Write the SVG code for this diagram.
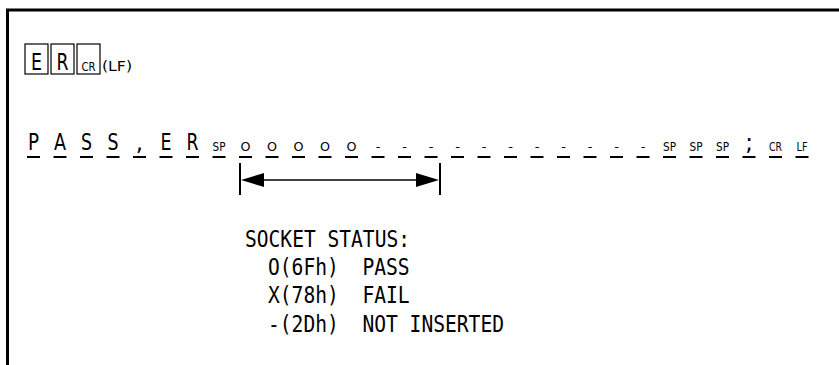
<svg xmlns="http://www.w3.org/2000/svg" width="839" height="365" viewBox="0 0 839 365">
<style>
.big{font-family:"DejaVu Sans",sans-serif;font-size:23px;fill:#000;text-anchor:middle}
.sm{font-family:"DejaVu Sans",sans-serif;font-size:13px;fill:#000;text-anchor:middle}
.mono{font-family:"DejaVu Sans Mono",monospace;font-size:23px;fill:#000;white-space:pre}
.box{fill:none;stroke:#000;stroke-width:1.2}
.ul{fill:none;stroke:#000;stroke-width:2}
</style>
<rect width="839" height="365" fill="#fff"/>
<g id="frame"><path d="M7.5 365V10H839" fill="none" stroke="#000" stroke-width="3"/></g>
<g id="command">
<rect class="box" x="25" y="44" width="23" height="30"/>
<rect class="box" x="51" y="44" width="23" height="30"/>
<rect class="box" x="77" y="44" width="23" height="30"/>
<text class="big" x="36.5" y="70" font-size="24" textLength="11" lengthAdjust="spacingAndGlyphs">E</text>
<text class="big" x="62.5" y="70" font-size="24" textLength="12" lengthAdjust="spacingAndGlyphs">R</text>
<text class="sm" x="88.5" y="71" textLength="14" lengthAdjust="spacingAndGlyphs">CR</text>
<text x="102" y="71" font-family="DejaVu Sans,sans-serif" font-size="14" textLength="30" lengthAdjust="spacingAndGlyphs">(LF)</text>
</g>
<g id="response">
<text class="big" x="33.5" y="150" textLength="11" lengthAdjust="spacingAndGlyphs">P</text>
<text class="big" x="60" y="150" textLength="12" lengthAdjust="spacingAndGlyphs">A</text>
<text class="big" x="86.5" y="150" textLength="11" lengthAdjust="spacingAndGlyphs">S</text>
<text class="big" x="113" y="150" textLength="11" lengthAdjust="spacingAndGlyphs">S</text>
<text class="big" x="139.5" y="150">,</text>
<text class="big" x="166" y="150" textLength="11" lengthAdjust="spacingAndGlyphs">E</text>
<text class="big" x="192.5" y="150" textLength="12" lengthAdjust="spacingAndGlyphs">R</text>
<text class="sm" x="219" y="151" textLength="13" lengthAdjust="spacingAndGlyphs">SP</text>
<text class="sm" x="245.5" y="151" textLength="10" lengthAdjust="spacingAndGlyphs">O</text>
<text class="sm" x="272" y="151" textLength="10" lengthAdjust="spacingAndGlyphs">O</text>
<text class="sm" x="298.5" y="151" textLength="10" lengthAdjust="spacingAndGlyphs">O</text>
<text class="sm" x="325" y="151" textLength="10" lengthAdjust="spacingAndGlyphs">O</text>
<text class="sm" x="351.5" y="151" textLength="10" lengthAdjust="spacingAndGlyphs">O</text>
<text class="sm" x="378" y="151">-</text>
<text class="sm" x="404.5" y="151">-</text>
<text class="sm" x="431" y="151">-</text>
<text class="sm" x="457.5" y="151">-</text>
<text class="sm" x="484" y="151">-</text>
<text class="sm" x="510.5" y="151">-</text>
<text class="sm" x="537" y="151">-</text>
<text class="sm" x="563.5" y="151">-</text>
<text class="sm" x="590" y="151">-</text>
<text class="sm" x="616.5" y="151">-</text>
<text class="sm" x="643" y="151">-</text>
<text class="sm" x="669.5" y="151" textLength="13" lengthAdjust="spacingAndGlyphs">SP</text>
<text class="sm" x="696" y="151" textLength="13" lengthAdjust="spacingAndGlyphs">SP</text>
<text class="sm" x="722.5" y="151" textLength="13" lengthAdjust="spacingAndGlyphs">SP</text>
<text class="big" x="749" y="150" font-size="20">;</text>
<text class="sm" x="775.5" y="151" textLength="13" lengthAdjust="spacingAndGlyphs">CR</text>
<text class="sm" x="802" y="151" textLength="11" lengthAdjust="spacingAndGlyphs">LF</text>
<path class="ul" d="M27 157h13M53.5 157h13M80 157h13M106.5 157h13M133 157h13M159.5 157h13M186 157h13M212.5 157h13M239 157h13M265.5 157h13M292 157h13M318.5 157h13M345 157h13M371.5 157h13M398 157h13M424.5 157h13M451 157h13M477.5 157h13M504 157h13M530.5 157h13M557 157h13M583.5 157h13M610 157h13M636.5 157h13M663 157h13M689.5 157h13M716 157h13M742.5 157h13M769 157h13M795.5 157h13"/>
</g>
<g id="connectors">
<path d="M240 163V195M440 163V195" stroke="#000" stroke-width="2" fill="none"/>
<path d="M250 180H430" stroke="#000" stroke-width="1.5" fill="none"/>
<polygon points="241,180 264,173 264,187" fill="#000"/>
<polygon points="439,180 416,173 416,187" fill="#000"/>
</g>
<g id="legend">
<text class="mono" x="245" y="247" textLength="165" lengthAdjust="spacingAndGlyphs">SOCKET STATUS:</text>
<text class="mono" x="268" y="275" textLength="141.6" lengthAdjust="spacingAndGlyphs">O(6Fh)  PASS</text>
<text class="mono" x="268" y="303" textLength="141.6" lengthAdjust="spacingAndGlyphs">X(78h)  FAIL</text>
<text class="mono" x="268" y="332" textLength="236" lengthAdjust="spacingAndGlyphs">-(2Dh)  NOT INSERTED</text>
</g>
</svg>
